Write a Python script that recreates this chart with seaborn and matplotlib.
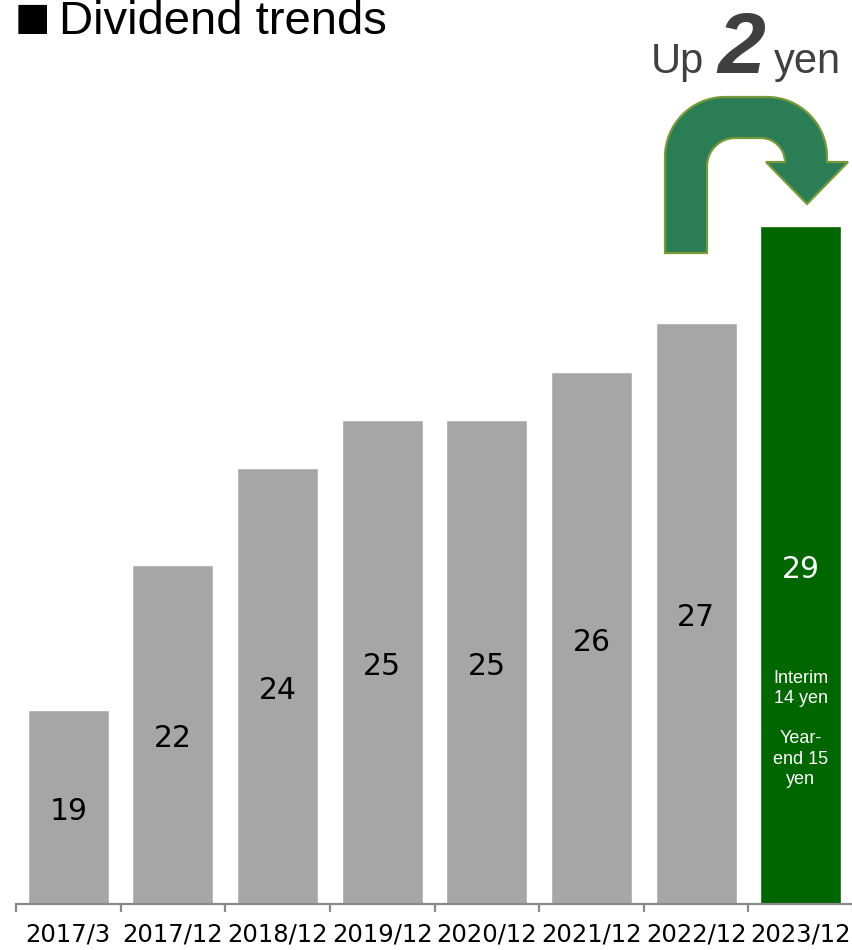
import matplotlib
matplotlib.use("Agg")
import matplotlib.pyplot as plt
from matplotlib.path import Path
from matplotlib.patches import PathPatch
import seaborn as sns

# Dividend per share by fiscal period (yen)
periods = ["2017/3", "2017/12", "2018/12", "2019/12", "2020/12", "2021/12", "2022/12", "2023/12"]
dividends = [19, 22, 24, 25, 25, 26, 27, 29]
bar_colors = ["#A6A6A6"] * 7 + ["#006600"]
breakdown_text = "Interim\n14 yen\n\nYear-\nend 15\nyen"
increase = 2

sns.set_style("white")
plt.rcParams["font.family"] = ["DejaVu Sans"]

W, H = 852, 950
fig = plt.figure(figsize=(W / 100, H / 100), dpi=100)
ax = fig.add_axes([16 / W, (H - 904) / H, 837 / W, 904 / H])

sns.barplot(x=periods, y=dividends, hue=periods, palette=bar_colors,
            legend=False, width=0.775, saturation=1, ax=ax)

ax.set_xlim(-0.5, 7.5)
ax.set_ylim(15, 33.68)
ax.set_xlabel("")
ax.set_ylabel("")
ax.set_yticks([])
for side in ("top", "right", "left"):
    ax.spines[side].set_visible(False)
ax.spines["bottom"].set_color("#898989")
ax.spines["bottom"].set_linewidth(1.6)

# labels centred under each category, tick marks on the category boundaries
ax.set_xticks(range(len(periods)))
ax.set_xticklabels(periods, fontsize=17.5, color="black")
ax.tick_params(axis="x", which="major", length=0, pad=13)
ax.set_xticks([i - 0.5 for i in range(len(periods) + 1)], minor=True)
ax.tick_params(axis="x", which="minor", length=6, width=1.6, color="#898989", bottom=True)

# value labels in the middle of each bar
for i, v in enumerate(dividends):
    col = "white" if i == len(dividends) - 1 else "black"
    ax.text(i, (15 + v) / 2 - 0.09, f"{v}", ha="center", va="center", fontsize=21.5, color=col)

ax.text(len(dividends) - 1, 18.62, breakdown_text, ha="center", va="center",
        fontsize=13, color="white", family=["Liberation Sans", "DejaVu Sans"],
        linespacing=1.25)

# title
fig.text(15 / W, 1 - 29 / H, "■", fontsize=27, va="baseline", ha="left",
         family=["DejaVu Sans"], color="black")
fig.text(59 / W, 1 - 34 / H, "Dividend trends", fontsize=34, va="baseline", ha="left",
         family=["Liberation Sans", "DejaVu Sans"], color="black")

# increase caption
fig.text(651 / W, 1 - 73 / H, "Up", fontsize=30, va="baseline", ha="left",
         family=["Liberation Sans"], color="#404040")
fig.text(717 / W, 1 - 73 / H, f"{increase}", fontsize=62, va="baseline", ha="left",
         family=["Liberation Sans"], weight="bold", style="italic", color="#404040")
fig.text(774 / W, 1 - 73 / H, "yen", fontsize=30, va="baseline", ha="left",
         family=["Liberation Sans"], color="#404040")

# curved arrow from the previous year to the latest bar
k = 0.5523


def to_fig(p):
    return (p[0] / W, 1 - p[1] / H)


verts, codes = [], []


def move(p):
    verts.append(p); codes.append(Path.MOVETO)


def line(p):
    verts.append(p); codes.append(Path.LINETO)


def arc(p0, p1, corner):
    c1 = (p0[0] + k * (corner[0] - p0[0]), p0[1] + k * (corner[1] - p0[1]))
    c2 = (p1[0] + k * (corner[0] - p1[0]), p1[1] + k * (corner[1] - p1[1]))
    verts.extend([c1, c2, p1]); codes.extend([Path.CURVE4] * 3)


ro, ri = 60, 24
move((665, 253))
line((665, 97 + ro))
arc((665, 97 + ro), (665 + ro, 97), (665, 97))
line((827 - ro, 97))
arc((827 - ro, 97), (827, 97 + ro), (827, 97))
line((827, 162))
line((848, 162))
line((807, 204))
line((766, 162))
line((785, 162))
line((785, 138 + ri))
arc((785, 138 + ri), (785 - ri, 138), (785, 138))
line((707 + ri + 4, 138))
arc((707 + ri + 4, 138), (707, 138 + ri + 4), (707, 138))
line((707, 253))
verts.append((665, 253)); codes.append(Path.CLOSEPOLY)

arrow = PathPatch(Path([to_fig(v) for v in verts], codes), transform=fig.transFigure,
                  facecolor="#2A7D55", edgecolor="#77993A", linewidth=1.6)
fig.add_artist(arrow)

fig.savefig("out.png", dpi=100)
